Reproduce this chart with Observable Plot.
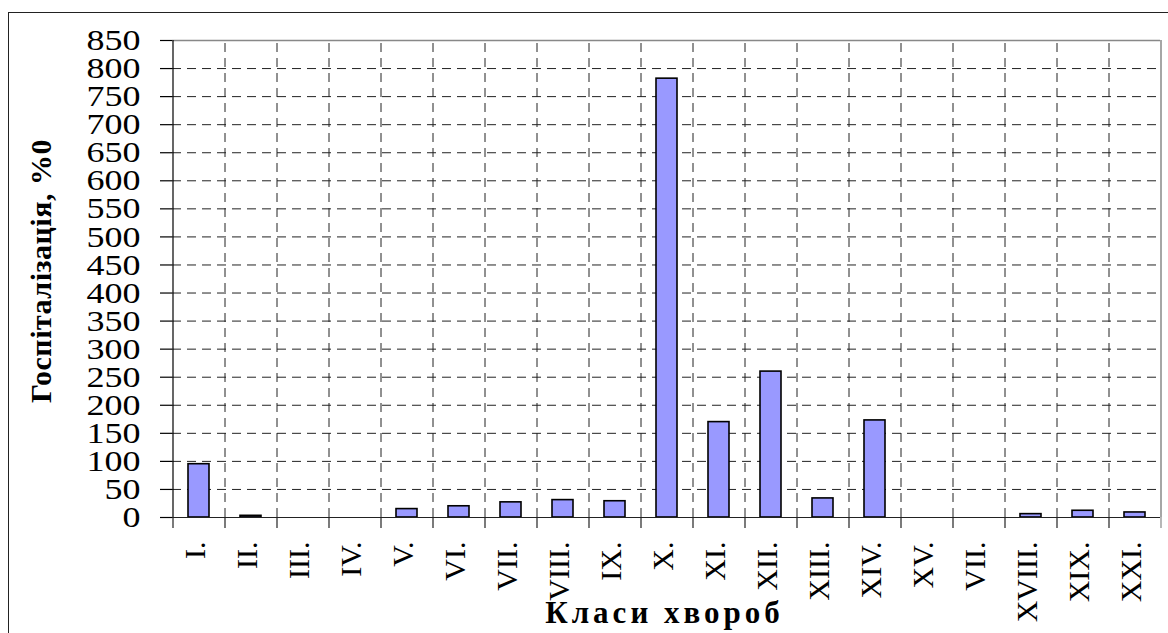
<!DOCTYPE html>
<html>
<head>
<meta charset="utf-8">
<script src="https://cdn.jsdelivr.net/npm/d3@7"></script>
<script src="https://cdn.jsdelivr.net/npm/@observablehq/plot@0.6"></script>
<style>
  html, body { margin: 0; padding: 0; background: #fff; }
  #wrap { position: relative; width: 1168px; height: 633px; overflow: hidden; }
  #frame { position: absolute; left: 8px; top: 12px; width: 1300px; height: 800px; border: 1px solid #222; box-sizing: border-box; }
  #chart { position: absolute; left: 0; top: 0; }
</style>
</head>
<body>
<div id="wrap"><div id="frame"></div><div id="chart"></div></div>
<script>
// ---- data ----
const categories = ["I.", "II.", "III.", "IV.", "V.", "VI.", "VII.", "VIII.", "IX.", "X.", "XI.", "XII.", "XIII.", "XIV.", "XV.", "VII.", "XVIII.", "XIX.", "XXI."];
const values = [95, 3, 0, 0, 15, 20, 27, 31, 29, 782, 170, 260, 34, 173, 0, 0, 6, 12, 9];
const yTicks = [0, 50, 100, 150, 200, 250, 300, 350, 400, 450, 500, 550, 600, 650, 700, 750, 800, 850];
const yTitle = "Госпіталізація, %0";
const xTitle = "Класи хвороб";

// ---- layout ----
const W = 1168, H = 633;
const mL = 172, mR = 8, mT = 40, mB = 116;
const n = categories.length;
const step = (W - mL - mR) / n;
const idx = d3.range(n);
const data = idx.map(i => ({i, v: values[i]}));
const dash = "9,6";
const serif = "'Liberation Serif', 'Times New Roman', serif";

const plot = Plot.plot({
  width: W, height: H,
  marginLeft: mL, marginRight: mR, marginTop: mT, marginBottom: mB,
  style: {fontFamily: serif, fontSize: "30px", background: "transparent", color: "#000", overflow: "visible"},
  x: {type: "band", domain: idx, paddingInner: 0.6, paddingOuter: 0.3, align: 0.5},
  y: {domain: [0, 850]},
  marks: [
    // dashed grid
    Plot.ruleY(yTicks.filter(v => v > 0 && v < 850), {y: d => d, stroke: "#222", strokeWidth: 1, strokeDasharray: dash}),
    Plot.ruleX(idx.slice(1), {x: d => d, dx: -step / 2, y1: 0, y2: 850, stroke: "#222", strokeWidth: 1, strokeDasharray: dash}),
    // plot area border (top/right)
    Plot.ruleY([850], {y: d => d, stroke: "#888", strokeWidth: 1.5}),
    Plot.ruleX([n - 1], {x: d => d, dx: step / 2, y1: 0, y2: 850, stroke: "#888", strokeWidth: 1.5}),
    // bars
    Plot.barY(data, {x: "i", y: "v", fill: "#9999FF", stroke: "#000", strokeWidth: 1.6}),
    // axis lines
    Plot.ruleY([0], {y: d => d, stroke: "#222", strokeWidth: 1.2}),
    Plot.ruleX([0], {x: d => d, dx: -step / 2, y1: 0, y2: 850, stroke: "#000", strokeWidth: 1.2}),
    // y axis
    Plot.axisY({ticks: yTicks, tickSize: 12, tickPadding: 20, fontSize: 30, fontFamily: serif, label: null, stroke: "#000", strokeWidth: 1.2, color: "#000"}),
    // x boundary ticks
    Plot.axisX({ticks: idx, tickFormat: () => "", tickSize: 11, dx: -step / 2, label: null, stroke: "#222", strokeWidth: 1.2}),
    Plot.axisX({ticks: [n - 1], tickFormat: () => "", tickSize: 11, dx: step / 2, label: null, stroke: "#888", strokeWidth: 1.2}),
    // x labels
    Plot.axisX({ticks: idx, tickFormat: i => categories[i], tickRotate: -90, tickSize: 0, tickPadding: 24, fontSize: 30, fontFamily: serif, label: null, dx: -4}),
    // titles
    Plot.text([yTitle], {text: d => d, frameAnchor: "left", textAnchor: "middle", rotate: -90, dx: -122, dy: -8, lineAnchor: "bottom", fontWeight: "bold", fontSize: 30, fontFamily: serif}),
    Plot.text([xTitle], {text: d => d, frameAnchor: "bottom", textAnchor: "middle", dx: -4, dy: 105, lineAnchor: "bottom", fontWeight: "bold", fontSize: 31, fontFamily: serif})
  ]
});

document.getElementById("chart").appendChild(plot);

// widen the y tick digits and space the x title like the reference
const svg = d3.select(plot);
svg.selectAll('g[aria-label="y-axis tick label"] text').each(function() {
  const t = this.textContent;
  this.setAttribute("textLength", 18 * t.length);
  this.setAttribute("lengthAdjust", "spacingAndGlyphs");
});
svg.selectAll("text").filter(function() { return this.textContent === xTitle; })
  .style("letter-spacing", "4px").attr("dx", "2");
svg.selectAll("text").filter(function() { return this.textContent === yTitle; })
  .style("letter-spacing", "0.5px");
</script>
</body>
</html>
